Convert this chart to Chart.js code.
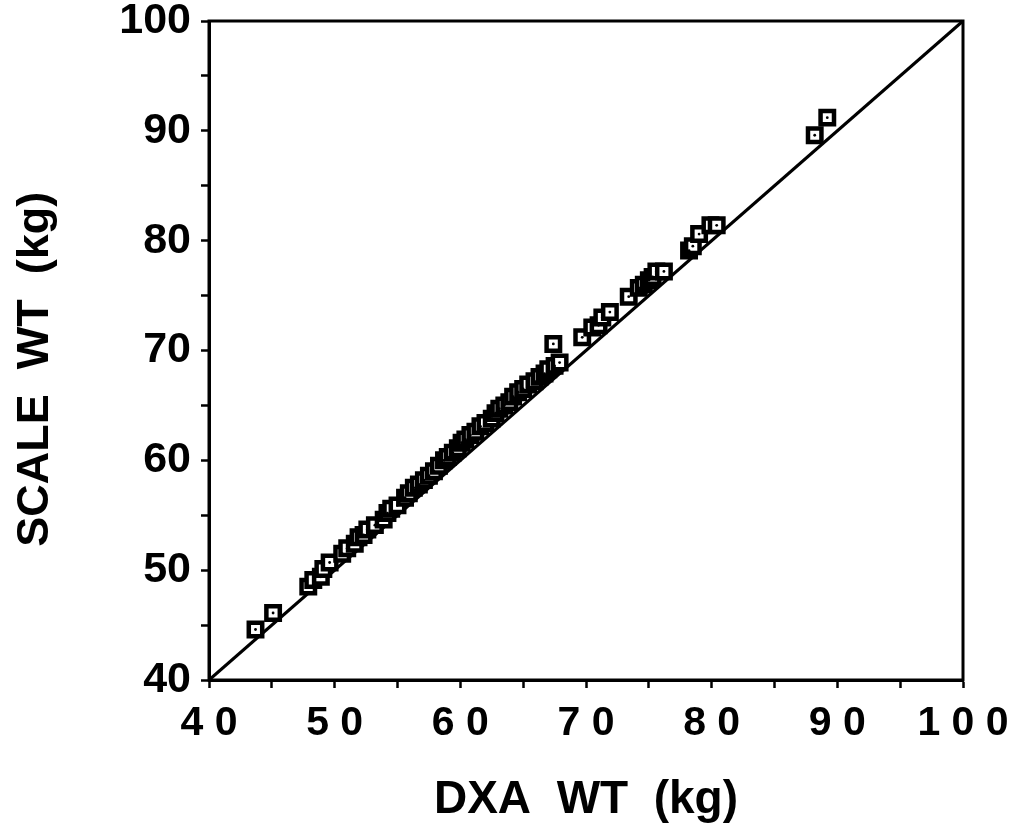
<!DOCTYPE html>
<html>
<head>
<meta charset="utf-8">
<script src="https://cdn.jsdelivr.net/npm/chart.js@4"></script>
<style>
  html, body { margin: 0; padding: 0; background: #fff; }
  #wrap { width: 1010px; height: 823px; }
</style>
</head>
<body>
<div id="wrap"><canvas id="chart" width="1010" height="823"></canvas></div>
<script>
// DXA weight vs scale weight (kg)
const dxaWt = [43.7, 45.1, 47.9, 48.3, 48.9, 49.1, 49.6, 50.6, 51.0, 51.6, 51.9, 52.3, 52.6, 53.2,
  53.9, 54.2, 54.5, 55.0, 55.6, 55.9, 56.3, 56.7, 57.1, 57.5, 57.9, 58.3, 58.7, 59.0, 59.4, 59.8,
  60.1, 60.4, 60.8, 61.2, 61.6, 62.0, 62.5, 62.8, 63.1, 63.5, 63.9, 64.2, 64.6, 65.0, 65.4, 65.9,
  66.3, 66.7, 67.0, 67.4, 67.5, 67.9, 69.7, 70.5, 71.0, 71.3, 71.9, 73.4, 74.2, 74.6, 75.0, 75.3,
  75.6, 76.2, 78.2, 78.5, 79.0, 79.9, 80.4, 88.2, 89.2];
const scaleWt = [44.6, 46.1, 48.5, 49.1, 49.4, 50.1, 50.7, 51.5, 52.0, 52.4, 53.0, 53.2, 53.7, 54.1,
  54.6, 55.2, 55.6, 55.9, 56.6, 57.0, 57.5, 57.8, 58.2, 58.6, 59.0, 59.5, 60.0, 60.3, 60.7, 61.1,
  61.6, 61.9, 62.3, 62.6, 63.1, 63.4, 63.8, 64.3, 64.7, 65.0, 65.3, 65.8, 66.2, 66.5, 66.9, 67.2,
  67.6, 67.9, 68.3, 70.6, 68.6, 68.9, 71.2, 72.1, 72.3, 73.0, 73.5, 74.9, 75.7, 76.0, 76.4, 76.7,
  77.2, 77.2, 79.1, 79.5, 80.6, 81.4, 81.4, 89.6, 91.2];
const identityLine = [40, 100];
const tickLabels = { 40: '4 0', 50: '5 0', 60: '6 0', 70: '7 0', 80: '8 0', 90: '9 0', 100: '1 0 0' };

const points = dxaWt.map((x, i) => ({ x: x, y: scaleWt[i] }));

const frame = {
  id: 'frame',
  afterDraw(chart) {
    const a = chart.chartArea, ctx = chart.ctx;
    ctx.save();
    ctx.strokeStyle = '#000';
    ctx.lineWidth = 3;
    ctx.strokeRect(a.left, a.top, a.right - a.left, a.bottom - a.top);
    ctx.restore();
  }
};

const font = 'Liberation Sans, Arial, Helvetica, sans-serif';

new Chart(document.getElementById('chart'), {
  type: 'scatter',
  data: {
    datasets: [
      {
        type: 'line',
        data: identityLine.map(v => ({ x: v, y: v })),
        borderColor: '#000',
        borderWidth: 3,
        pointRadius: 0,
        clip: false,
        order: 3
      },
      {
        data: points,
        pointStyle: 'rect',
        pointRadius: 9.5,
        borderWidth: 4.5,
        borderColor: '#000',
        backgroundColor: '#fff',
        order: 2
      },
      {
        data: points,
        pointStyle: 'circle',
        pointRadius: 1.4,
        borderWidth: 0,
        backgroundColor: '#000',
        order: 1
      }
    ]
  },
  options: {
    responsive: false,
    animation: false,
    layout: { padding: { left: 0, top: 21, right: 47, bottom: 0 } },
    plugins: { legend: { display: false }, tooltip: { enabled: false } },
    scales: {
      x: {
        type: 'linear',
        min: 40, max: 100,
        afterFit: s => { s.height = 143; s.paddingLeft = 0; s.paddingRight = 0; },
        border: { display: true, color: '#000', width: 3 },
        grid: { drawOnChartArea: false, drawTicks: true, tickLength: 8, tickWidth: 2.5, tickColor: '#000' },
        ticks: {
          stepSize: 5,
          padding: 11,
          maxRotation: 0,
          autoSkip: false,
          color: '#000',
          font: { family: font, size: 41, weight: 'bold' },
          callback: v => tickLabels[v] || ''
        },
        title: {
          display: true,
          text: 'DXA  WT  (kg)',
          color: '#000',
          padding: 0,
          font: { family: font, size: 46, weight: 'bold', lineHeight: 1.0 }
        }
      },
      y: {
        type: 'linear',
        min: 40, max: 100,
        afterFit: s => { s.width = 209; s.paddingTop = 0; s.paddingBottom = 0; },
        border: { display: true, color: '#000', width: 3 },
        grid: { drawOnChartArea: false, drawTicks: true, tickLength: 8, tickWidth: 2.5, tickColor: '#000' },
        ticks: {
          stepSize: 5,
          padding: 10,
          autoSkip: false,
          color: '#000',
          font: { family: font, size: 43, weight: 'bold' },
          callback: v => (v % 10 === 0 ? String(v) : '')
        },
        title: {
          display: true,
          text: 'SCALE  WT  (kg)   ',
          color: '#000',
          padding: { top: 13, bottom: 0 },
          font: { family: font, size: 45, weight: 'bold', lineHeight: 1.0 }
        }
      }
    }
  },
  plugins: [frame]
});
</script>
</body>
</html>
